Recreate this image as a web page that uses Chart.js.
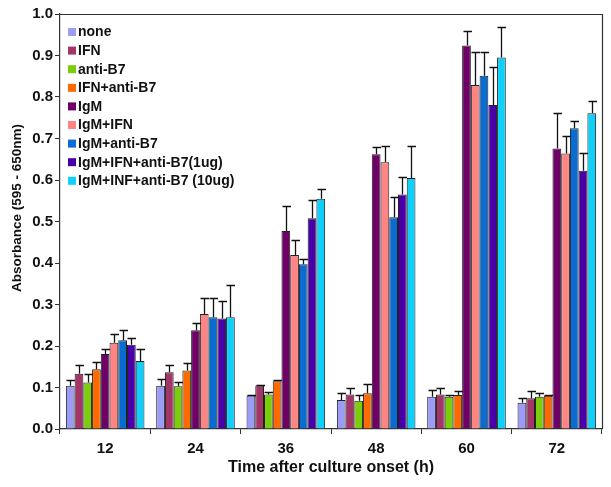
<!DOCTYPE html>
<html>
<head>
<meta charset="utf-8">
<script src="https://cdn.jsdelivr.net/npm/chart.js@4/dist/chart.umd.min.js"></script>
<style>
  html, body { margin: 0; padding: 0; background: #fff; }
  #wrap { width: 611px; height: 487px; }
</style>
</head>
<body>
<div id="wrap"><canvas id="chart"></canvas></div>
<script>
// 시간 (h)
const categories = ['12', '24', '36', '48', '60', '72'];

// 시리즈 이름 / 색상
const seriesLabels = [
  'none', 'IFN', 'anti-B7', 'IFN+anti-B7', 'IgM', 'IgM+IFN',
  'IgM+anti-B7', 'IgM+IFN+anti-B7(1ug)', 'IgM+INF+anti-B7 (10ug)'
];
const seriesColors = [
  '#9c9cf6', '#a33567', '#7ccd0c', '#ff6a00', '#6e0066', '#ff8585',
  '#0a6bd0', '#4a00a8', '#10d0fa'
];

// 평균값
const none = [0.104, 0.104, 0.081, 0.070, 0.078, 0.063];
const ifn = [0.133, 0.137, 0.105, 0.083, 0.083, 0.074];
const antiB7 = [0.112, 0.103, 0.083, 0.068, 0.078, 0.078];
const ifnAntiB7 = [0.144, 0.141, 0.115, 0.086, 0.082, 0.080];
const igm = [0.181, 0.238, 0.477, 0.662, 0.924, 0.676];
const igmIfn = [0.208, 0.277, 0.419, 0.643, 0.829, 0.664];
const igmAntiB7 = [0.214, 0.269, 0.397, 0.510, 0.851, 0.725];
const igmIfnAntiB7_1 = [0.203, 0.266, 0.508, 0.565, 0.781, 0.622];
const igmInfAntiB7_10 = [0.164, 0.269, 0.555, 0.605, 0.895, 0.761];

// 오차 막대 상단값
const noneErr = [0.118, 0.120, 0.083, 0.086, 0.093, 0.075];
const ifnErr = [0.155, 0.154, 0.107, 0.100, 0.098, 0.092];
const antiB7Err = [0.133, 0.114, 0.089, 0.083, 0.083, 0.086];
const ifnAntiB7Err = [0.161, 0.160, 0.117, 0.109, 0.092, 0.081];
const igmErr = [0.192, 0.255, 0.537, 0.679, 0.960, 0.761];
const igmIfnErr = [0.229, 0.316, 0.455, 0.681, 0.908, 0.707];
const igmAntiB7Err = [0.238, 0.316, 0.410, 0.558, 0.909, 0.742];
const igmIfnAntiB7_1Err = [0.219, 0.308, 0.553, 0.608, 0.873, 0.664];
const igmInfAntiB7_10Err = [0.192, 0.346, 0.579, 0.681, 0.969, 0.790];

// y축 눈금
const yTicks = [0.0, 0.1, 0.2, 0.3, 0.4, 0.5, 0.6, 0.7, 0.8, 0.9, 1.0];

const seriesValues = [none, ifn, antiB7, ifnAntiB7, igm, igmIfn, igmAntiB7, igmIfnAntiB7_1, igmInfAntiB7_10];
const seriesErrors = [noneErr, ifnErr, antiB7Err, ifnAntiB7Err, igmErr, igmIfnErr, igmAntiB7Err, igmIfnAntiB7_1Err, igmInfAntiB7_10Err];

const FONT = 'Liberation Sans, Arial, Helvetica, sans-serif';

// 오차 막대 + 테두리 + 범례 + y축 제목
const extrasPlugin = {
  id: 'extras',
  afterDatasetsDraw(chart) {
    const ctx = chart.ctx;
    const y = chart.scales.y;
    ctx.save();
    ctx.strokeStyle = '#111';
    ctx.lineWidth = 1.3;
    chart.data.datasets.forEach((ds, i) => {
      const meta = chart.getDatasetMeta(i);
      meta.data.forEach((bar, j) => {
        const top = seriesErrors[i][j];
        const yTop = Math.round(y.getPixelForValue(top));
        const x = Math.round(bar.x) + 0.5;
        ctx.beginPath();
        ctx.moveTo(x, bar.y);
        ctx.lineTo(x, yTop);
        ctx.moveTo(x - 4, yTop + 0.5);
        ctx.lineTo(x + 4.5, yTop + 0.5);
        ctx.stroke();
      });
    });
    ctx.restore();
  },
  afterDraw(chart) {
    const ctx = chart.ctx;
    const a = chart.chartArea;
    ctx.save();
    ctx.strokeStyle = '#333';
    ctx.lineWidth = 1.2;
    ctx.beginPath();
    ctx.moveTo(a.left, a.top + 0.5);
    ctx.lineTo(a.right + 0.5, a.top + 0.5);
    ctx.lineTo(a.right + 0.5, a.bottom);
    ctx.stroke();

    // 범례
    ctx.font = 'bold 14px ' + FONT;
    ctx.textBaseline = 'middle';
    ctx.textAlign = 'left';
    seriesLabels.forEach((label, i) => {
      const cy = 32 + i * 18.6;
      ctx.fillStyle = seriesColors[i];
      ctx.fillRect(68, cy - 4, 8, 8);
      ctx.fillStyle = '#111';
      ctx.fillText(label, 78, cy + 0.5);
    });

    // y축 제목
    ctx.translate(17, 208);
    ctx.rotate(-Math.PI / 2);
    ctx.textAlign = 'center';
    ctx.font = 'bold 13.5px ' + FONT;
    ctx.fillText('Absorbance (595 - 650nm)', 0, 0);
    ctx.restore();
  }
};

new Chart(document.getElementById('chart'), {
  type: 'bar',
  data: {
    labels: categories,
    datasets: seriesLabels.map((label, i) => ({
      label: label,
      data: seriesValues[i],
      backgroundColor: seriesColors[i],
      borderColor: '#222',
      borderWidth: 1,
      borderSkipped: 'bottom',
      categoryPercentage: 0.87,
      barPercentage: 1.0,
    })),
  },
  options: {
    responsive: true,
    maintainAspectRatio: false,
    animation: false,
    layout: { padding: { top: 14, right: 9, left: 0, bottom: 0 } },
    plugins: {
      legend: { display: false },
      tooltip: { enabled: false },
    },
    scales: {
      x: {
        grid: { display: true, drawOnChartArea: false, drawTicks: true, tickLength: 5, color: '#333', offset: true },
        border: { display: true, color: '#333', width: 1.2 },
        ticks: { color: '#111', font: { family: FONT, size: 15, weight: 'bold' }, padding: 6 },
        title: {
          display: true,
          text: 'Time after culture onset (h)',
          color: '#111',
          font: { family: FONT, size: 16, weight: 'bold' },
          padding: { top: 0, bottom: 10 },
        },
        afterFit(scale) { scale.height = 58; },
      },
      y: {
        min: 0,
        max: 1.0,
        afterBuildTicks(scale) { scale.ticks = yTicks.map((v) => ({ value: v })); },
        grid: { display: true, drawOnChartArea: false, drawTicks: true, tickLength: 5, color: '#333' },
        border: { display: true, color: '#333', width: 1.2 },
        ticks: {
          color: '#111',
          font: { family: FONT, size: 15, weight: 'bold' },
          padding: 2,
          callback: (v) => Number(v).toFixed(1),
        },
        title: { display: false },
        afterFit(scale) { scale.width = 60; },
      },
    },
  },
  plugins: [extrasPlugin],
});
</script>
</body>
</html>
